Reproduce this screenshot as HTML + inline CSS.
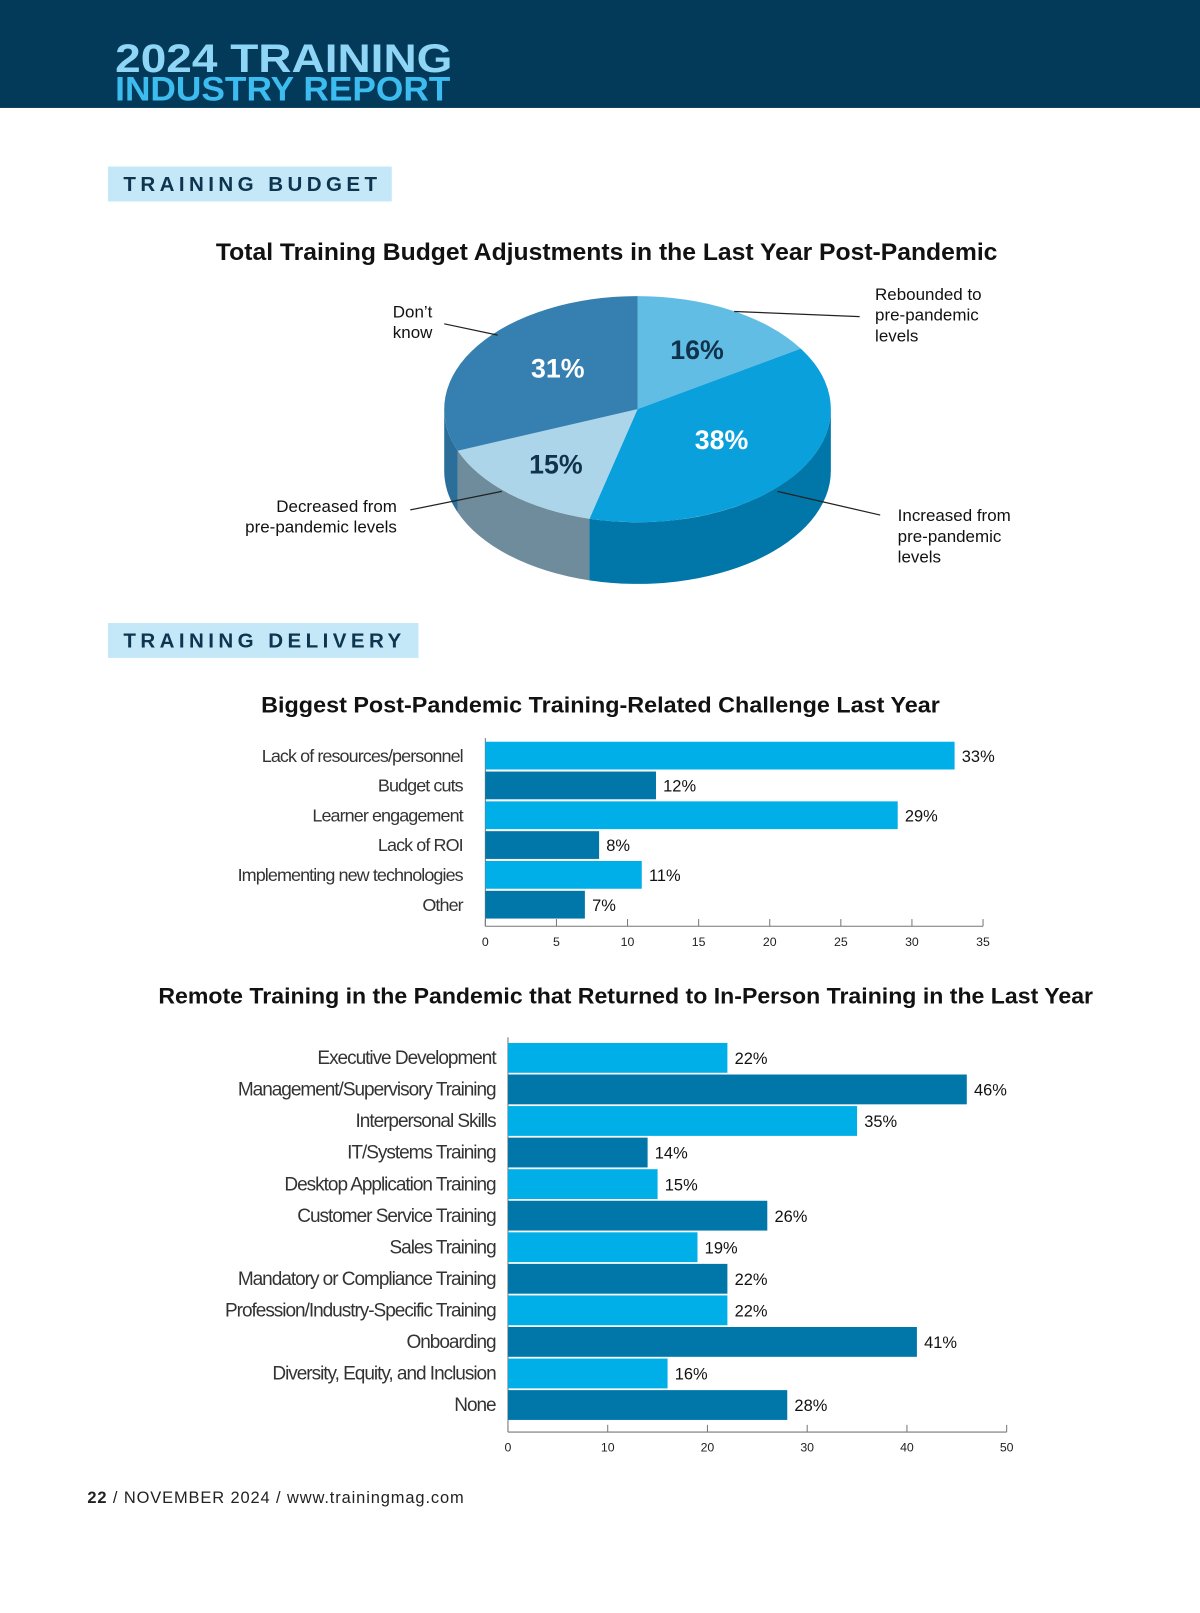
<!DOCTYPE html>
<html><head><meta charset="utf-8"><style>
html,body{margin:0;padding:0;background:#fff}
svg{display:block}
text{font-family:"Liberation Sans",sans-serif}
</style></head><body>
<svg id="page" width="1200" height="1613" viewBox="0 0 1167 1569" preserveAspectRatio="none">
<rect x="0" y="0" width="1167" height="105" fill="#033a5a"/>
<text x="112" y="70" font-size="39" font-weight="bold" fill="#8fd6f6" textLength="328" lengthAdjust="spacingAndGlyphs">2024 TRAINING</text>
<text x="112" y="98" font-size="33" font-weight="bold" fill="#3cbcef" textLength="326" lengthAdjust="spacingAndGlyphs">INDUSTRY REPORT</text>

<rect x="105" y="162" width="276" height="34" fill="#c5e8f8"/>
<text x="120" y="186" font-size="20" font-weight="bold" fill="#0d3550" letter-spacing="4.3">TRAINING BUDGET</text>
<text x="210" y="253" font-size="23" font-weight="bold" fill="#111" textLength="760" lengthAdjust="spacingAndGlyphs">Total Training Budget Adjustments in the Last Year Post-Pandemic</text>
<g id="pie"></g>

<rect x="105" y="606" width="302" height="34" fill="#c5e8f8"/>
<text x="120" y="630" font-size="20" font-weight="bold" fill="#0d3550" letter-spacing="4.3">TRAINING DELIVERY</text>
<text x="254" y="693" font-size="22" font-weight="bold" fill="#111" textLength="660" lengthAdjust="spacingAndGlyphs">Biggest Post-Pandemic Training-Related Challenge Last Year</text>
<g id="chart1"></g>
<text x="154" y="976" font-size="22" font-weight="bold" fill="#111" textLength="909" lengthAdjust="spacingAndGlyphs">Remote Training in the Pandemic that Returned to In-Person Training in the Last Year</text>
<g id="chart2"></g>
<text x="85" y="1462" font-size="16" fill="#222" textLength="366" lengthAdjust="spacing"><tspan font-weight="bold">22</tspan> / NOVEMBER 2024 / www.trainingmag.com</text>
</svg>
<script>
const NS="http://www.w3.org/2000/svg";
// Pie data
const pieLabels=["Rebounded to pre-pandemic levels","Increased from pre-pandemic levels","Decreased from pre-pandemic levels","Don't know"];
const pieValues=[16,38,15,31];
// Chart 1 data
const c1Categories=["Lack of resources/personnel","Budget cuts","Learner engagement","Lack of ROI","Implementing new technologies","Other"];
const c1Values=[33,12,29,8,11,7];
const c1Ticks=[0,5,10,15,20,25,30,35];
// Chart 2 data
const c2Categories=["Executive Development","Management/Supervisory Training","Interpersonal Skills","IT/Systems Training","Desktop Application Training","Customer Service Training","Sales Training","Mandatory or Compliance Training","Profession/Industry-Specific Training","Onboarding","Diversity, Equity, and Inclusion","None"];
const c2Values=[22,46,35,14,15,26,19,22,22,41,16,28];
const c2Ticks=[0,10,20,30,40,50];

function mk(tag,attrs,parent){const e=document.createElementNS(NS,tag);for(const k in attrs)e.setAttribute(k,attrs[k]);parent.appendChild(e);return e;}

// ---- Pie ----
(function(){
 const g=document.getElementById('pie');
 const cx=620,cy=398,rx=188,ry=110,d=60;
 const top=["#62bde4","#0aa0dc","#acd5ea","#3580b0"];
 const side=["#3a9ccb","#0077a8","#6f8c9c","#2a6e99"];
 const txtCol=["#10324a","#fff","#10324a","#fff"];
 const off=[[8,-6],[-2,-7],[-11,7],[8,-7]];
 const total=pieValues.reduce((a,b)=>a+b,0);
 const pt=(a,dy)=>[cx+rx*Math.sin(a),cy-ry*Math.cos(a)+(dy||0)];
 let acc=0;const angles=pieValues.map(v=>{const s=acc;acc+=v/total*2*Math.PI;return [s,acc];});
 angles.forEach(([s,e],i)=>{
  const a0=Math.max(s,Math.PI/2),a1=Math.min(e,3*Math.PI/2);
  if(a1<=a0)return;
  const p0=pt(a0),p1=pt(a1),q1=pt(a1,d),q0=pt(a0,d);
  const p=mk('path',{d:`M${p0} A${rx},${ry} 0 0 1 ${p1} L${q1} A${rx},${ry} 0 0 0 ${q0} Z`,fill:side[i]},g);
  
  
 });
 angles.forEach(([s,e],i)=>{
  const p0=pt(s),p1=pt(e);const large=(e-s)>Math.PI?1:0;
  const p=mk('path',{d:`M${cx},${cy} L${p0} A${rx},${ry} 0 ${large} 1 ${p1} Z`,fill:top[i]},g);
  
  
  const m=(s+e)/2;const t=pt(m);const lx=cx+(t[0]-cx)*0.55+off[i][0],ly=cy+(t[1]-cy)*0.55+10+off[i][1];
  const tx=mk('text',{x:lx,y:ly,'text-anchor':'middle','font-size':26,'font-weight':'bold',fill:txtCol[i]},g);
  tx.textContent=pieValues[i]+'%';
  
  
 });
 const lines=[[714,303,836,308],[756,478,856,501],[399,496,488,478],[432,315,484,326]];
 const lbl=[[851,292,'start',["Rebounded to","pre-pandemic","levels"]],[873,507,'start',["Increased from","pre-pandemic","levels"]],[386,498,'end',["Decreased from","pre-pandemic levels"]],[382,309,'start',["Don\u2019t","know"]]];
 lines.forEach((l,i)=>{
  const ln=mk('line',{x1:l[0],y1:l[1],x2:l[2],y2:l[3],stroke:'#222','stroke-width':1.2},g);
  
  
  const [x,y,an,rows]=lbl[i];
  const t=mk('text',{x:x,y:y,'text-anchor':an,'font-size':16.5,fill:'#111'},g);
  
  
  rows.forEach((r,j)=>{const s=mk('tspan',{x:x,dy:j?20:0},t);s.textContent=r;});
 });
})();

// ---- Bar charts ----
function barChart(gid,cats,vals,ticks,o){
 const g=document.getElementById(gid);
 const maxV=ticks[ticks.length-1];
 const X=v=>o.x0+(o.x1-o.x0)*v/maxV;
 const Y=i=>o.yc0+i*o.pitch;
 const ax=mk('line',{x1:o.x0,y1:o.axTop,x2:o.x0,y2:o.axY,stroke:'#777','stroke-width':1},g);
 
 
 const xa=mk('line',{x1:o.x0,y1:o.axY,x2:o.x1,y2:o.axY,stroke:'#777','stroke-width':1},g);
 
 
 ticks.forEach(t=>{
  const tl=mk('line',{x1:X(t),y1:o.axY-7,x2:X(t),y2:o.axY,stroke:'#777','stroke-width':1},g);
  
  
  const tt=mk('text',{x:X(t),y:o.axY+19,'text-anchor':'middle','font-size':12,fill:'#222'},g);
  tt.textContent=t;
  
  
 });
 cats.forEach((c,i)=>{
  const r=mk('rect',{x:o.x0,y:Y(i)-o.bh/2,width:X(vals[i])-o.x0,height:o.bh,fill:i%2?'#0077a8':'#00aee8'},g);
  
  
  const lt=mk('text',{x:o.x0-o.lg,y:Y(i)+6,'text-anchor':'end','font-size':o.fs,fill:'#333','letter-spacing':o.ls},g);
  lt.textContent=c;
  
  
  const vt=mk('text',{x:X(vals[i])+7,y:Y(i)+6,'font-size':16,fill:'#111'},g);
  vt.textContent=vals[i]+'%';
  
  
 });
}
barChart('chart1',c1Categories,c1Values,c1Ticks,{x0:472,x1:956,yc0:735,pitch:29,bh:27,axTop:718,axY:901,fs:17.5,ls:-0.9,lg:22});
barChart('chart2',c2Categories,c2Values,c2Ticks,{x0:494,x1:979,yc0:1029,pitch:30.7,bh:29,axTop:1009,axY:1393,fs:18.5,ls:-1,lg:12});
</script>
</body></html>
